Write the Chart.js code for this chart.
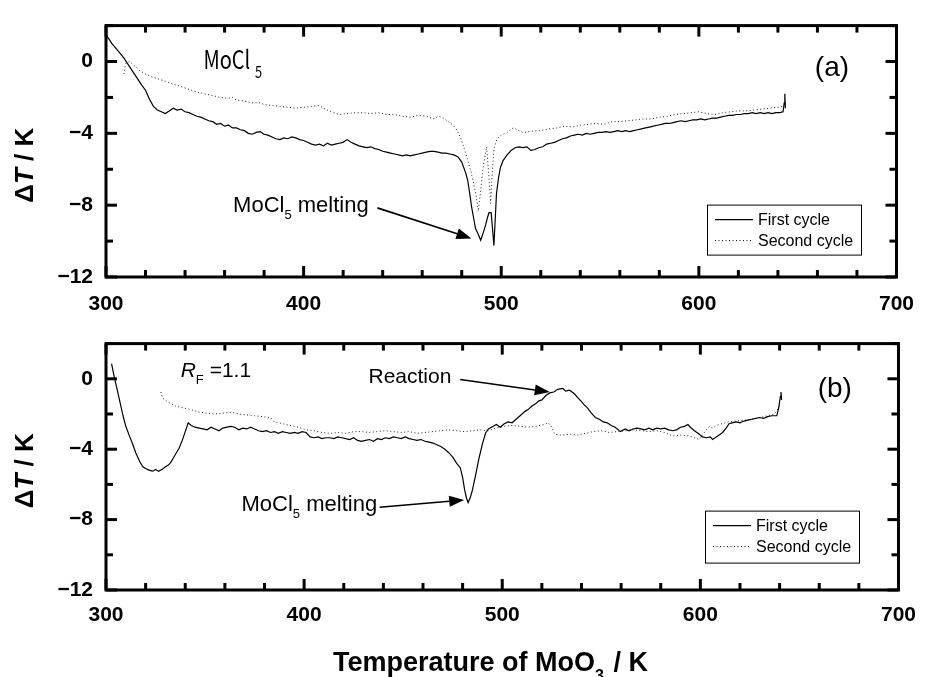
<!DOCTYPE html>
<html>
<head>
<meta charset="utf-8">
<title>DTA MoCl5</title>
<script src="https://cdn.jsdelivr.net/npm/chart.js@4.4.0/dist/chart.umd.min.js"></script>
<style>
  body { margin: 0; background: #fff; width: 929px; height: 677px; overflow: hidden; position: relative; }
  canvas { position: absolute; left: 0; }
  #chartA { top: 0; }
  #chartB { top: 318px; }
</style>
</head>
<body>
<canvas id="chartA" width="929" height="318"></canvas>
<canvas id="chartB" width="929" height="359"></canvas>
<script>
// axis ticks
const xTickVals = [300, 400, 500, 600, 700];
const yTickVals = [-12, -8, -4, 0];

// (a) MoCl5 alone - first cycle
const aFirstT = [300, 303, 306, 309, 312, 315, 318, 320, 322, 324, 326, 328, 330, 332, 334, 336, 338, 340, 342, 344,
  346, 348, 350, 352, 354, 356, 358, 360, 362, 364, 366, 368, 370, 372, 374, 376, 378, 380, 382, 384,
  386, 388, 390, 392, 394, 396, 398, 400, 402, 404, 406, 408, 410, 412, 414, 416, 418, 420, 422, 424,
  426, 428, 430, 432, 434, 436, 438, 440, 442, 444, 446, 448, 450, 452, 454, 456, 458, 460, 462, 464,
  466, 468, 470, 472, 474, 476, 478, 480, 482, 483, 484, 485, 486, 487, 488.3, 489.6, 491, 492.1, 493, 493.8,
  494.9, 496.3, 497.6, 498.6, 499.6, 501, 503, 505, 507, 509, 511, 513, 515, 517, 519, 521, 523, 525, 527, 529,
  531, 533, 535, 537, 539, 541, 543, 545, 547, 549, 551, 553, 555, 557, 559, 561, 563, 565, 567, 569,
  571, 573, 575, 577, 579, 581, 583, 585, 587, 589, 591, 593, 595, 597, 599, 601, 603, 605, 607, 609,
  611, 613, 615, 617, 619, 621, 623, 625, 627, 629, 631, 633, 635, 637, 639, 641, 642.6, 643.2, 643.5, 643.8];
const aFirstDT = [1.5, 1.0, 0.6, 0.2, -0.3, -0.8, -1.3, -1.6, -2.1, -2.5, -2.7, -2.8, -2.9, -2.75, -2.6, -2.7, -2.65, -2.8, -2.85, -2.95,
  -3.05, -3.1, -3.2, -3.3, -3.35, -3.5, -3.45, -3.6, -3.55, -3.7, -3.7, -3.8, -3.85, -4.0, -4.05, -3.95, -3.9, -4.05, -4.1, -4.2,
  -4.3, -4.35, -4.25, -4.3, -4.2, -4.25, -4.35, -4.4, -4.5, -4.6, -4.65, -4.6, -4.7, -4.55, -4.65, -4.6, -4.55, -4.5, -4.35, -4.5,
  -4.6, -4.7, -4.75, -4.8, -4.75, -4.85, -4.9, -5.0, -5.05, -5.1, -5.15, -5.2, -5.25, -5.2, -5.25, -5.2, -5.15, -5.1, -5.05, -5.0,
  -5.0, -5.05, -5.1, -5.1, -5.15, -5.2, -5.3, -5.6, -6.2, -6.6, -7.3, -8.1, -8.7, -9.3, -9.6, -9.95, -9.5, -9.1, -8.7, -8.42,
  -8.42, -10.25, -7.35, -6.5, -5.9, -5.5, -5.2, -4.95, -4.8, -4.75, -4.8, -4.75, -4.95, -4.9, -4.8, -4.75, -4.6, -4.55, -4.5, -4.4,
  -4.3, -4.25, -4.15, -4.1, -4.05, -4.1, -4.0, -4.05, -4.0, -3.95, -3.95, -3.9, -3.95, -3.9, -3.85, -3.9, -3.85, -3.9, -3.85, -3.8,
  -3.75, -3.7, -3.65, -3.6, -3.55, -3.5, -3.45, -3.45, -3.4, -3.35, -3.3, -3.35, -3.3, -3.25, -3.25, -3.2, -3.25, -3.2, -3.15, -3.15,
  -3.1, -3.05, -3.0, -3.0, -2.95, -2.95, -2.9, -2.9, -2.85, -2.9, -2.85, -2.9, -2.85, -2.9, -2.85, -2.85, -2.8, -2.3, -1.8, -2.6];

// (a) second cycle
const aSecondT = [309, 310, 312, 314, 317, 320, 323, 326, 330, 334, 338, 342, 346, 350, 354, 358, 362, 364, 366, 370,
  374, 378, 380, 384, 388, 392, 396, 400, 404, 408, 410, 414, 418, 422, 426, 430, 434, 438, 442, 446,
  450, 454, 458, 462, 466, 468, 470, 472, 474, 476, 478, 480, 481.3, 483, 484.6, 486, 487.1, 488.4, 489.6, 490.5,
  491.3, 492.6, 493.8, 494.6, 495.4, 496.3, 497.9, 500, 502.9, 504.9, 506.2, 508, 511.2, 514, 516, 520, 524, 528, 532, 536,
  540, 544, 548, 552, 556, 560, 564, 568, 572, 576, 580, 584, 588, 592, 596, 600, 604, 608, 612, 616,
  620, 624, 628, 632, 636, 640, 643];
const aSecondDT = [-0.7, -0.1, 0.0, -0.2, -0.5, -0.7, -0.85, -0.95, -1.1, -1.25, -1.4, -1.55, -1.7, -1.8, -1.9, -2.0, -2.05, -2.0, -2.15, -2.2,
  -2.3, -2.3, -2.4, -2.45, -2.5, -2.55, -2.6, -2.55, -2.5, -2.45, -2.6, -2.8, -2.95, -2.9, -2.85, -2.85, -2.9, -2.85, -2.95, -2.95,
  -3.05, -3.1, -3.0, -3.05, -3.2, -3.05, -3.1, -3.25, -3.4, -3.6, -3.9, -4.4, -4.85, -5.5, -6.1, -6.8, -7.35, -8.33, -7.2, -6.2,
  -5.57, -4.76, -6.46, -7.9, -6.3, -4.85, -4.3, -4.1, -3.96, -3.78, -3.69, -3.8, -3.96, -3.9, -3.87, -3.85, -3.75, -3.7, -3.6, -3.65,
  -3.55, -3.5, -3.45, -3.5, -3.35, -3.35, -3.3, -3.25, -3.2, -3.2, -3.1, -3.05, -2.95, -2.9, -2.85, -2.8, -2.9, -2.95, -2.85, -2.8,
  -2.75, -2.75, -2.7, -2.65, -2.6, -2.55, -2.5];

// (b) RF = 1.1 - first cycle
const bFirstT = [302.8, 304, 305.3, 307, 308.6, 310, 312, 313.6, 315, 317, 318.6, 320, 322, 323.6, 325, 326.5, 328.6, 330, 331.5, 332.7,
  334, 335.5, 336.9, 338.5, 340, 341.5, 343, 345, 347, 349, 351, 353, 355, 357, 359, 361, 363, 365, 367, 369,
  371, 373, 375, 377, 379, 381, 383, 385, 387, 389, 391, 393, 395, 397, 399, 401, 403, 405, 407, 409,
  411, 413, 415, 417, 419, 421, 423, 425, 427, 429, 431, 433, 435, 437, 439, 441, 443, 445, 447, 449,
  451, 453, 455, 457, 459, 461, 463, 465, 467, 469, 471, 473, 475, 477, 478.8, 480, 481, 482, 482.8, 484,
  485, 486.5, 488.3, 490, 491.6, 493, 495, 497, 499, 501, 503, 505, 507, 509, 511.5, 513, 515, 517, 518.5, 520,
  522, 524, 526, 528, 530.6, 532, 534, 536.4, 538, 540, 541.5, 543, 545, 547, 549, 551, 553, 555, 557, 559.7,
  562, 564, 566, 568, 570, 572, 574, 576, 578, 580, 582, 584, 586, 588, 590, 592, 593.7, 595, 597, 599.5,
  601, 603, 605, 606.2, 608, 610, 611.2, 613, 614.5, 616, 618, 620, 622, 624, 626, 628, 630, 632, 634, 636,
  638.6, 639.6, 640.4, 640.7, 641];
const bFirstDT = [0.86, 0.2, -0.45, -1.3, -2.1, -2.7, -3.3, -3.75, -4.2, -4.7, -5.0, -5.1, -5.2, -5.25, -5.15, -5.25, -5.12, -5.0, -4.9, -4.75,
  -4.5, -4.2, -3.95, -3.5, -3.0, -2.5, -2.65, -2.75, -2.8, -2.85, -2.9, -2.75, -2.85, -2.95, -2.8, -2.75, -2.7, -2.75, -2.9, -2.8,
  -2.85, -2.75, -2.85, -2.95, -3.0, -2.95, -3.05, -3.0, -3.1, -3.0, -3.05, -3.1, -3.05, -3.1, -3.0, -3.05, -3.3, -3.35, -3.3, -3.4,
  -3.35, -3.35, -3.4, -3.3, -3.35, -3.4, -3.45, -3.35, -3.5, -3.55, -3.5, -3.45, -3.55, -3.4, -3.45, -3.35, -3.4, -3.3, -3.35, -3.4,
  -3.3, -3.4, -3.45, -3.5, -3.45, -3.55, -3.6, -3.65, -3.75, -3.85, -4.0, -4.2, -4.45, -4.8, -5.05, -5.6, -6.3, -6.8, -7.03, -6.7,
  -6.3, -5.5, -4.5, -3.7, -3.08, -2.85, -2.72, -2.6, -2.75, -2.55, -2.45, -2.5, -2.3, -2.1, -1.85, -1.75, -1.55, -1.4, -1.25, -1.2,
  -0.95, -0.8, -0.75, -0.6, -0.55, -0.7, -0.65, -0.85, -1.05, -1.3, -1.5, -1.65, -1.95, -2.2, -2.3, -2.45, -2.5, -2.65, -2.75, -3.0,
  -2.85, -2.95, -2.85, -2.8, -2.85, -2.9, -2.8, -2.9, -2.8, -2.85, -2.8, -2.9, -2.95, -2.9, -2.75, -2.7, -2.6, -2.75, -2.95, -3.15,
  -3.3, -3.35, -3.3, -3.45, -3.3, -3.15, -3.05, -2.8, -2.55, -2.5, -2.45, -2.5, -2.4, -2.35, -2.3, -2.25, -2.2, -2.25, -2.15, -2.1,
  -2.1, -1.6, -1.0, -0.75, -1.2];

// (b) second cycle
const bSecondT = [327.7, 328.5, 331, 335, 339, 343, 347, 351, 355, 359, 363, 367, 371, 375, 379, 383, 385, 389, 393, 397,
  401, 405, 409, 413, 417, 421, 425, 429, 433, 437, 441, 445, 449, 453, 457, 461, 465, 469, 473, 477,
  481, 485, 489, 493, 497, 501, 505, 509, 513, 517, 521, 523.2, 525, 526.5, 530, 534, 538, 542, 546, 550,
  554, 558, 562, 566, 570, 574, 578, 582, 586, 590, 594.5, 597, 599.5, 601, 603, 604.5, 606, 608, 611.2, 614,
  618, 622, 626, 630, 634, 637, 638.6, 640];
const bSecondDT = [-0.75, -1.1, -1.3, -1.55, -1.65, -1.75, -1.9, -1.95, -2.0, -1.95, -1.9, -2.0, -2.05, -2.1, -2.15, -2.2, -2.45, -2.55, -2.65, -2.75,
  -2.9, -2.95, -3.05, -3.1, -3.05, -3.1, -3.0, -3.0, -3.05, -3.0, -2.95, -3.0, -3.05, -3.0, -3.1, -3.05, -3.0, -2.95, -2.9, -2.95,
  -3.0, -2.95, -2.9, -2.95, -2.8, -2.7, -2.65, -2.7, -2.75, -2.7, -2.6, -2.5, -2.75, -3.15, -3.2, -3.15, -3.2, -3.1, -3.0, -2.95,
  -3.05, -3.0, -2.95, -2.9, -2.95, -3.0, -2.95, -3.05, -3.25, -3.2, -3.25, -3.35, -3.45, -3.2, -2.9, -2.72, -2.8, -2.65, -2.55, -2.45,
  -2.4, -2.35, -2.3, -2.2, -2.1, -2.0, -1.85, -1.5];

const seriesLabels = ['First cycle', 'Second cycle'];

const SANS = '"Liberation Sans", Arial, sans-serif';
const GOTHIC = '"Noto Sans CJK JP", ' + SANS;

function pairs(xs, ys) {
  return xs.map((x, i) => ({ x: x, y: ys[i] }));
}

// write a string made of runs (used for subscripts)
function drawRuns(ctx, x, y, runs) {
  let cx = x;
  runs.forEach(r => {
    ctx.font = r.font;
    ctx.fillText(r.t, cx, y + (r.dy || 0));
    cx += ctx.measureText(r.t).width + (r.gap || 0);
  });
}

// box, inward ticks on all four sides
const framePlugin = {
  id: 'frame',
  afterDatasetsDraw(chart) {
    const { ctx, chartArea: a, scales } = chart;
    const xs = scales.x, ys = scales.y;
    ctx.save();
    ctx.strokeStyle = '#000';
    ctx.lineWidth = 3;
    ctx.lineCap = 'butt';
    ctx.strokeRect(a.left, a.top, a.right - a.left, a.bottom - a.top);
    const tick = (x1, y1, x2, y2) => { ctx.beginPath(); ctx.moveTo(x1, y1); ctx.lineTo(x2, y2); ctx.stroke(); };
    for (let v = xs.min; v <= xs.max + 0.01; v += 20) {
      const px = xs.getPixelForValue(v);
      const len = (v % 100 === 0) ? 11 : 7;
      tick(px, a.bottom, px, a.bottom - len);
      tick(px, a.top, px, a.top + len);
    }
    for (let v = -12; v <= ys.max + 0.01; v += 2) {
      const py = ys.getPixelForValue(v);
      const len = (v % 4 === 0) ? 11 : 7;
      tick(a.left, py, a.left + len, py);
      tick(a.right, py, a.right - len, py);
    }
    ctx.restore();
  }
};

// text labels, arrows, legend box, axis titles
const notesPlugin = {
  id: 'notes',
  afterDraw(chart, args, opts) {
    const { ctx, chartArea: a, scales } = chart;
    const px = v => scales.x.getPixelForValue(v);
    const py = v => scales.y.getPixelForValue(v);
    ctx.save();
    ctx.fillStyle = '#000';
    ctx.strokeStyle = '#000';
    ctx.textBaseline = 'alphabetic';
    ctx.textAlign = 'left';

    (opts.texts || []).forEach(n => {
      ctx.save();
      ctx.translate(px(n.x), py(n.y));
      if (n.sx) ctx.scale(n.sx, 1);
      drawRuns(ctx, 0, 0, n.runs);
      ctx.restore();
    });

    (opts.arrows || []).forEach(ar => {
      const x1 = px(ar.from[0]), y1 = py(ar.from[1]);
      const x2 = px(ar.to[0]), y2 = py(ar.to[1]);
      const ang = Math.atan2(y2 - y1, x2 - x1);
      const hl = 15, hw = 5.5;
      const bx = x2 - hl * Math.cos(ang), by = y2 - hl * Math.sin(ang);
      ctx.lineWidth = 1.6;
      ctx.beginPath(); ctx.moveTo(x1, y1); ctx.lineTo(bx, by); ctx.stroke();
      ctx.beginPath();
      ctx.moveTo(x2, y2);
      ctx.lineTo(bx + hw * Math.sin(ang), by - hw * Math.cos(ang));
      ctx.lineTo(bx - hw * Math.sin(ang), by + hw * Math.cos(ang));
      ctx.closePath(); ctx.fill();
    });

    // legend
    if (opts.legend) {
      const L = opts.legend;
      const lx = a.left + L.x, ly = a.top + L.y;
      ctx.lineWidth = 1;
      ctx.strokeRect(lx + 0.5, ly + 0.5, L.w, L.h);
      ctx.font = '16px ' + SANS;
      ctx.textBaseline = 'middle';
      chart.data.datasets.forEach((ds, i) => {
        const ry = ly + 15 + i * 21;
        ctx.save();
        ctx.lineWidth = ds.borderWidth;
        ctx.setLineDash(ds.borderDash || []);
        ctx.beginPath(); ctx.moveTo(lx + 8, ry); ctx.lineTo(lx + 46, ry); ctx.stroke();
        ctx.restore();
        ctx.fillText(ds.label, lx + 51, ry + 1);
      });
      ctx.textBaseline = 'alphabetic';
    }

    // y axis title
    ctx.save();
    ctx.translate(33, (a.top + a.bottom) / 2 + opts.yTitleShift);
    ctx.rotate(-Math.PI / 2);
    const yRuns = [
      { t: '\u0394', font: 'bold 26px ' + SANS },
      { t: 'T', font: 'italic bold 26px ' + SANS },
      { t: ' / K', font: 'bold 26px ' + SANS }
    ];
    let w = 0;
    yRuns.forEach(r => { ctx.font = r.font; w += ctx.measureText(r.t).width; });
    drawRuns(ctx, -w / 2, 0, yRuns);
    ctx.restore();

    // x axis title (bottom chart only)
    if (opts.xTitle) {
      drawRuns(ctx, opts.xTitle.x, opts.xTitle.y, [
        { t: 'Temperature of MoO', font: 'bold 27px ' + SANS },
        { t: '3', font: 'bold 16px ' + SANS, dy: 10, gap: 2 },
        { t: ' / K', font: 'bold 27px ' + SANS }
      ]);
    }
    ctx.restore();
  }
};

function makeChart(id, first, second, pad, xAxisH, xLabelPad, notes) {
  return new Chart(document.getElementById(id), {
    type: 'line',
    data: {
      datasets: [
        {
          label: seriesLabels[0],
          data: first,
          borderColor: '#000',
          borderWidth: 1.2,
          pointRadius: 0,
          tension: 0
        },
        {
          label: seriesLabels[1],
          data: second,
          borderColor: '#222',
          borderWidth: 1,
          borderDash: [1, 2.5],
          pointRadius: 0,
          tension: 0
        }
      ]
    },
    options: {
      responsive: false,
      animation: false,
      devicePixelRatio: 1,
      layout: { padding: pad },
      plugins: {
        legend: { display: false },
        tooltip: { enabled: false },
        notes: notes
      },
      scales: {
        x: {
          type: 'linear',
          min: 300,
          max: 700,
          grid: { display: false, drawTicks: false },
          border: { display: false },
          afterBuildTicks: s => { s.ticks = xTickVals.map(v => ({ value: v })); },
          afterFit: s => { s.height = xAxisH; },
          ticks: {
            color: '#000',
            padding: xLabelPad,
            maxRotation: 0,
            font: { family: SANS, size: 21, weight: 'bold' }
          }
        },
        y: {
          min: -12,
          max: 2,
          grid: { display: false, drawTicks: false },
          border: { display: false },
          afterBuildTicks: s => { s.ticks = yTickVals.map(v => ({ value: v })); },
          afterFit: s => { s.width = 106; },
          ticks: {
            color: '#000',
            padding: 13,
            font: { family: SANS, size: 21, weight: 'bold' },
            callback: v => String(v).replace('-', '\u2212')
          }
        }
      }
    },
    plugins: [framePlugin, notesPlugin]
  });
}

const melting = [
  { t: 'MoCl', font: '22px ' + SANS },
  { t: '5', font: '13px ' + SANS, dy: 7 },
  { t: ' melting', font: '22px ' + SANS }
];

makeChart('chartA', pairs(aFirstT, aFirstDT), pairs(aSecondT, aSecondDT),
  { top: 15, right: 20, left: 0, bottom: 0 }, 41, 15, {
    texts: [
      { x: 349.3, y: -0.39, sx: 0.8, runs: [
        { t: 'MoCl', font: '25px ' + GOTHIC, gap: 6 },
        { t: '5', font: '16px ' + GOTHIC, dy: 9 }
      ] },
      { x: 658.7, y: -0.82, runs: [{ t: '(a)', font: '28px ' + SANS }] },
      { x: 364.3, y: -8.37, runs: melting }
    ],
    arrows: [{ from: [437.3, -8.15], to: [484.9, -9.85] }],
    legend: { x: 601, y: 179, w: 154, h: 50 },
    yTitleShift: 14
  });

makeChart('chartB', pairs(bFirstT, bFirstDT), pairs(bSecondT, bSecondDT),
  { top: 10, right: 20, left: 0, bottom: 0 }, 87, 13, {
    texts: [
      { x: 337.7, y: 0.11, runs: [
        { t: 'R', font: 'italic 21px ' + SANS },
        { t: 'F', font: '13px ' + SANS, dy: 7 },
        { t: ' =1.1', font: '21px ' + SANS }
      ] },
      { x: 432.5, y: -0.25, runs: [{ t: 'Reaction', font: '21px ' + SANS }] },
      { x: 659.2, y: -1.02, runs: [{ t: '(b)', font: '28px ' + SANS }] },
      { x: 368.4, y: -7.53, runs: melting }
    ],
    arrows: [
      { from: [478.8, -0.04], to: [524, -0.75] },
      { from: [438.1, -7.3], to: [480.8, -6.88] }
    ],
    legend: { x: 599, y: 167, w: 154, h: 52 },
    yTitleShift: 4,
    xTitle: { x: 333, y: 353 }
  });
</script>
</body>
</html>
